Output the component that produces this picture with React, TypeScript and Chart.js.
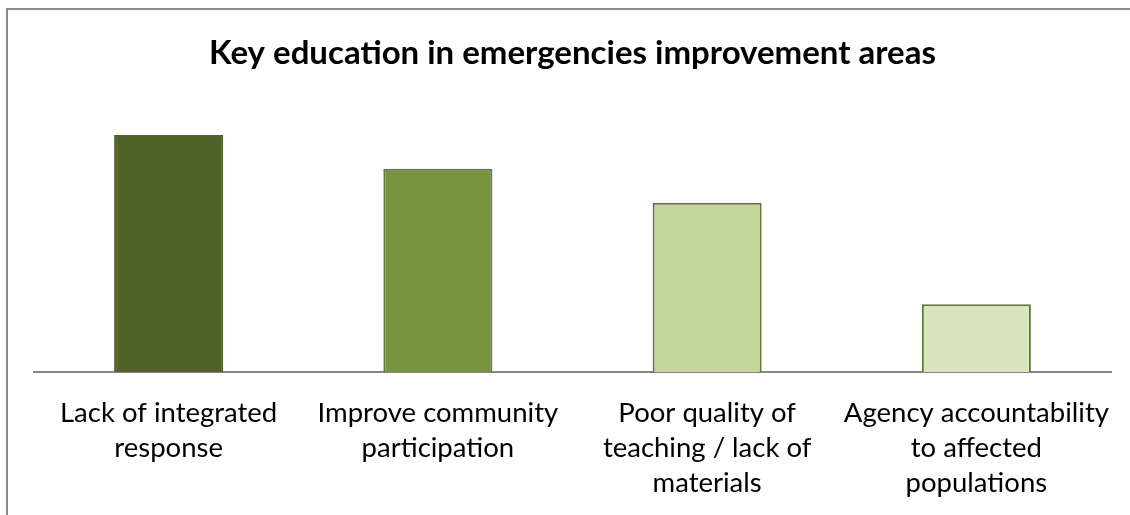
import React, { useEffect, useRef } from "react";
import { Chart, registerables } from "chart.js";

Chart.register(...registerables);

const categories: string[][] = [
  ["Lack of integrated", "response"],
  ["Improve community", "participation"],
  ["Poor quality of", "teaching / lack of", "materials"],
  ["Agency accountability", "to affected", "populations"],
];
const values: number[] = [7, 6, 5, 2];
const fillColors: string[] = ["#4F6228", "#77933C", "#C3D69B", "#D7E4BD"];
const edgeColors: string[] = ["#4F6228", "#5E7A30", "#5E7A30", "#5E7A30"];
const titleText = "Key education in emergencies improvement areas";

const FONT = "Lato, 'Open Sans', sans-serif";

const framePlugin = {
  id: "frame",
  beforeDraw(chart: any) {
    const ctx = chart.ctx;
    ctx.save();
    ctx.fillStyle = "#ffffff";
    ctx.fillRect(0, 0, chart.width, chart.height);
    ctx.strokeStyle = "#8C8C8C";
    ctx.lineWidth = 2;
    ctx.strokeRect(7, 9, chart.width + 20, chart.height + 20);
    ctx.restore();
  },
};

export default function App() {
  const ref = useRef<HTMLCanvasElement | null>(null);
  useEffect(() => {
    if (!ref.current) return;
    const chart = new Chart(ref.current, {
      type: "bar",
      data: {
        labels: categories,
        datasets: [
          {
            data: values,
            backgroundColor: fillColors,
            borderColor: edgeColors,
            borderWidth: 2,
            categoryPercentage: 1,
            barPercentage: 0.405,
          },
        ],
      },
      options: {
        responsive: false,
        animation: false,
        devicePixelRatio: 1,
        layout: { padding: { left: 34, right: 19, top: 0, bottom: 0 } },
        plugins: {
          legend: { display: false },
          tooltip: { enabled: false },
          title: {
            display: true,
            text: titleText,
            color: "#000000",
            font: { family: FONT, size: 33, weight: "bold", lineHeight: 1.2 },
            padding: { top: 33.5, bottom: 28 },
          },
        },
        scales: {
          x: {
            grid: { display: false, drawTicks: false },
            border: { display: true, color: "#868686", width: 2 },
            ticks: {
              color: "#000000",
              font: { family: FONT, size: 27.5, lineHeight: 1.28 },
              padding: 23.5,
              maxRotation: 0,
              autoSkip: false,
            },
            afterFit: (scale: any) => {
              scale.height = 515 - 372;
              scale.paddingLeft = 0;
              scale.paddingRight = 0;
            },
          },
          y: {
            display: false,
            min: 0,
            max: 8,
          },
        },
      },
      plugins: [framePlugin],
    });
    return () => chart.destroy();
  }, []);
  return (
    <div style={{ position: "fixed", left: 0, top: 0, width: 1130, height: 515, overflow: "hidden" }}>
      <canvas ref={ref} width={1130} height={515} style={{ width: 1130, height: 515, display: "block" }} />
    </div>
  );
}
